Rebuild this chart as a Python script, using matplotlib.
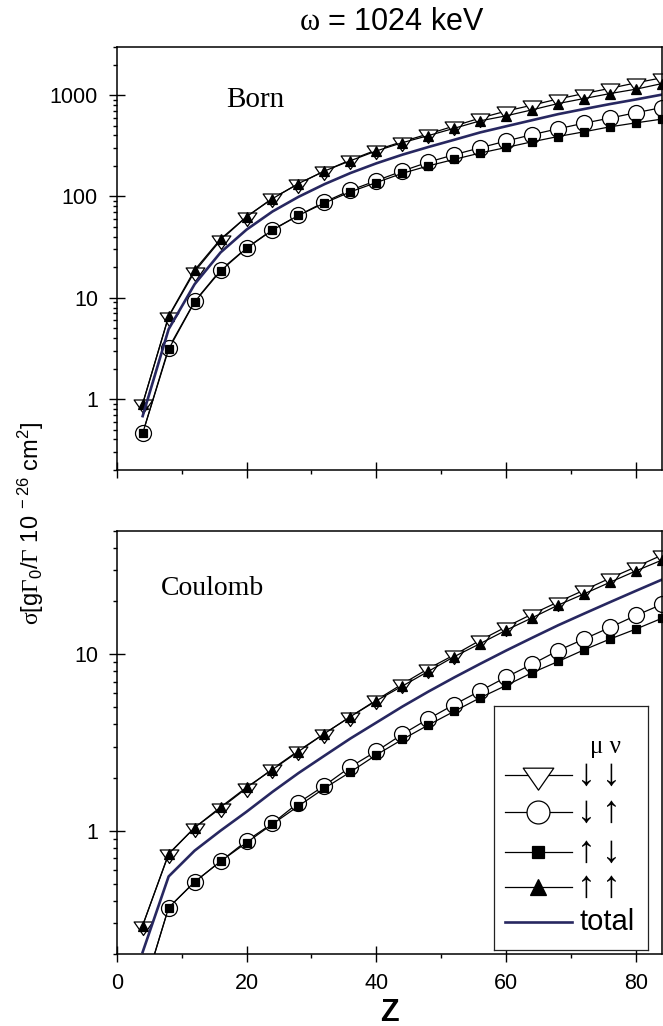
import matplotlib
matplotlib.use("Agg")
import matplotlib.pyplot as plt
from matplotlib.path import Path
from matplotlib.ticker import FixedLocator, LogLocator, NullFormatter, FuncFormatter, MultipleLocator

plt.rcParams['font.family'] = ['Liberation Sans', 'DejaVu Sans']
plt.rcParams['mathtext.fontset'] = 'custom'
plt.rcParams['mathtext.rm'] = 'Liberation Sans'
plt.rcParams['mathtext.sf'] = 'Liberation Serif'
plt.rcParams['mathtext.it'] = 'Liberation Sans:italic'
plt.rcParams['mathtext.bf'] = 'Liberation Sans:bold'

# ---------------- data ----------------
Z = [4, 8, 12, 16, 20, 24, 28, 32, 36, 40, 44, 48, 52, 56, 60, 64, 68, 72, 76, 80, 84]

# Born approximation
born_dd = [0.90, 6.5, 18.1, 37, 63, 96, 133, 178, 229, 287, 347, 413, 495, 593, 695, 795, 915, 1035, 1165, 1320, 1480]
born_du = [0.46, 3.2, 9.2, 18.8, 31, 47, 65, 88, 115, 143, 178, 218, 258, 302, 352, 407, 465, 528, 593, 670, 753]
born_ud = [0.46, 3.1, 9.1, 18.4, 30.8, 46.5, 65, 86, 111, 137, 169, 200, 232, 268, 304, 346, 390, 434, 486, 532, 579]
born_uu = [0.90, 6.6, 18.8, 38, 63, 95, 134, 178, 225, 281, 339, 398, 470, 557, 624, 715, 825, 924, 1035, 1143, 1298]
born_total = [0.68, 4.9, 13.6, 28, 47, 71, 99, 132, 170, 212, 258, 307, 362, 428, 492, 565, 648, 728, 815, 905, 1010]

# Coulomb
coul_dd = [0.29, 0.735, 1.04, 1.34, 1.74, 2.24, 2.84, 3.55, 4.43, 5.50, 6.78, 8.29, 9.92, 12.0, 14.3, 16.9, 19.8, 23.1, 27.0, 31.3, 36.5]
coul_du = [0.12, 0.366, 0.512, 0.67, 0.875, 1.10, 1.44, 1.80, 2.30, 2.82, 3.52, 4.30, 5.19, 6.20, 7.42, 8.79, 10.5, 12.2, 14.2, 16.6, 19.2]
coul_ud = [0.12, 0.366, 0.512, 0.67, 0.855, 1.09, 1.38, 1.74, 2.15, 2.69, 3.29, 3.97, 4.75, 5.67, 6.66, 7.86, 9.1, 10.6, 12.2, 13.9, 16.0]
coul_uu = [0.29, 0.74, 1.04, 1.36, 1.76, 2.22, 2.81, 3.55, 4.43, 5.45, 6.6, 8.0, 9.7, 11.5, 13.7, 16.1, 19.0, 22.0, 25.6, 29.7, 34.2]
coul_total = [0.205, 0.55, 0.77, 1.0, 1.28, 1.66, 2.12, 2.66, 3.33, 4.1, 5.05, 6.14, 7.39, 8.83, 10.5, 12.4, 14.6, 17.0, 19.75, 22.9, 26.5]

top_ticks = [1, 10, 100, 1000]
bot_ticks = [1, 10]
x_ticks = [0, 20, 40, 60, 80]
# spin orientation of (mu, nu) for each polarised series
leg_spins = [('\u2193', '\u2193'), ('\u2193', '\u2191'), ('\u2191', '\u2193'), ('\u2191', '\u2191')]
total_label = 'total'

# ---------------- style ----------------
NAVY = '#272760'
tri_down = Path([(-1, 0.48), (1, 0.48), (0, -0.96), (-1, 0.48)], closed=True)
styles = [
    dict(marker=tri_down, ms=13.5, mfc='white', mec='black'),
    dict(marker='o', ms=11.5, mfc='white', mec='black'),
    dict(marker='s', ms=5.2, mfc='black', mec='black'),
    dict(marker='^', ms=6.5, mfc='black', mec='black'),
]
leg_sizes = [22, 16.5, 8, 11]

fig = plt.figure(figsize=(6.63, 10.26), dpi=100)
ax1 = fig.add_axes([0.176, 0.5419, 0.8225, 0.4126])
ax2 = fig.add_axes([0.176, 0.0702, 0.8225, 0.4123])


def draw(ax, series, total):
    for s, st in zip(series, styles):
        ax.plot(Z, s, color='black', lw=0.9, mew=0.9, **st)
    ax.plot(Z, total, color=NAVY, lw=1.9)
    ax.set_yscale('log')
    ax.set_xlim(0, 84)
    ax.xaxis.set_major_locator(FixedLocator(x_ticks))
    ax.xaxis.set_minor_locator(MultipleLocator(10))
    ax.yaxis.set_minor_locator(LogLocator(base=10, subs=[2, 3, 4, 5, 6, 7, 8, 9], numticks=20))
    ax.yaxis.set_minor_formatter(NullFormatter())
    ax.yaxis.set_major_formatter(FuncFormatter(lambda v, p: '%g' % v))
    ax.tick_params(which='major', direction='inout', length=11, width=1.0, labelsize=15.5, pad=8)
    ax.tick_params(which='minor', direction='out', length=3, width=1.0)
    for sp in ax.spines.values():
        sp.set_linewidth(1.1)


draw(ax1, [born_dd, born_du, born_ud, born_uu], born_total)
ax1.set_ylim(0.2, 3000)
ax1.yaxis.set_major_locator(FixedLocator(top_ticks))
ax1.tick_params(labelbottom=False)
ax1.text(0.2, 0.858, 'Born', transform=ax1.transAxes, fontsize=21,
         family='Liberation Serif', va='baseline')

draw(ax2, [coul_dd, coul_du, coul_ud, coul_uu], coul_total)
ax2.set_ylim(0.2, 50)
ax2.yaxis.set_major_locator(FixedLocator(bot_ticks))
ax2.text(0.081, 0.848, 'Coulomb', transform=ax2.transAxes, fontsize=20,
         family='Liberation Serif', va='baseline')
ax2.set_xlabel('Z', fontsize=22, fontweight='bold', labelpad=3)

fig.text(392 / 663, 1 - 22 / 1026, r'$\mathsf{\omega}$ = 1024 keV', ha='center', va='center', fontsize=22)
fig.text(0.047, 0.49,
         r'$\mathsf{\sigma}\mathrm{[g}\mathsf{\Gamma}_{\mathrm{0}}\mathrm{/}\mathsf{\Gamma}\mathrm{\ 10}^{\mathrm{\ -26}}\mathrm{\ cm}^{\mathrm{2}}\mathrm{]}$',
         rotation=90, ha='center', va='center', fontsize=17)

# ---------------- legend box (pixel-based layout) ----------------
lx0, lx1, ly0, ly1 = 494, 647.7, 706, 950
lax = fig.add_axes([lx0 / 663, 1 - ly1 / 1026, (lx1 - lx0) / 663, (ly1 - ly0) / 1026])
lax.set_xlim(lx0, lx1)
lax.set_ylim(ly1, ly0)
lax.set_xticks([])
lax.set_yticks([])
for sp in lax.spines.values():
    sp.set_linewidth(0.9)
    sp.set_color('#222222')
lax.text(605, 747, '\u03bc \u03bd', family='Liberation Serif', fontsize=18, va='center', ha='center')
rows = [775, 811.7, 851.7, 886.7, 921.7]
for i, yy in enumerate(rows):
    if i < 4:
        st = dict(styles[i])
        st['ms'] = leg_sizes[i]
        lax.plot([505, 571.7], [yy, yy], color='black', lw=0.9, zorder=1)
        lax.plot([538], [yy], color='black', mew=0.9, zorder=2, **st)
        for xc, ch in zip([586.5, 611], leg_spins[i]):
            lax.text(xc, yy, ch, fontsize=27, va='center', ha='center')
    else:
        lax.plot([505, 571.7], [yy, yy], color=NAVY, lw=1.9)
        lax.text(579, yy, total_label, fontsize=21, va='center', ha='left')

fig.savefig('out.png', dpi=100)
